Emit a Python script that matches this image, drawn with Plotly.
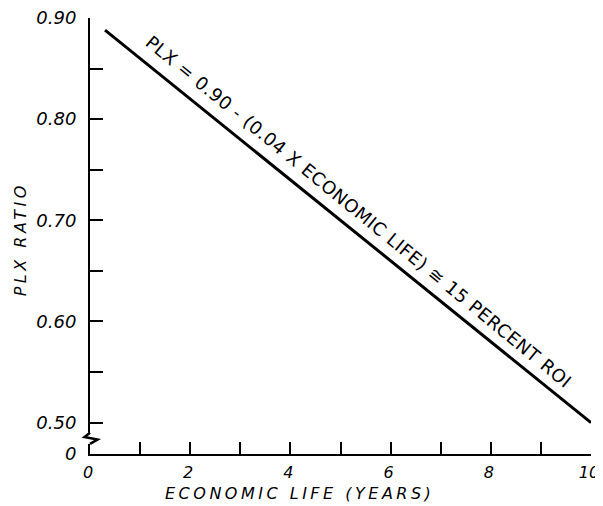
import plotly.graph_objects as go

# Data
economic_life = [0.3, 10.0]
plx_ratio = [0.888, 0.50]

x_major = [0, 2, 4, 6, 8, 10]
x_major_text = ["0", "2", "4", "6", "8", "10"]
x_minor = [1, 3, 5, 7, 9]

y_bottom = 0.469  # broken axis: this position is labelled "0"
y_major = [y_bottom, 0.50, 0.60, 0.70, 0.80, 0.90]
y_major_text = ["0", "0.50", "0.60", "0.70", "0.80", "0.90"]
y_minor = [0.55, 0.65, 0.75, 0.85]

eq_text = "PLX = 0.90 - (0.04 X ECONOMIC LIFE) ≅ 15 PERCENT ROI"
eq_x = 5.26
eq_y = 0.691

x_title = "ECONOMIC LIFE (YEARS)"
y_title = "PLX RATIO"

FONT = "DejaVu Sans"
# page body has an 8px margin; figure is sized to fit the 603x506 window
W, H = 595, 498


def spaced(t, px):
    return f'<span style="letter-spacing:{px}px">{t}</span>'


fig = go.Figure()
fig.add_trace(go.Scatter(
    x=economic_life, y=plx_ratio, mode="lines",
    line=dict(color="black", width=3), cliponaxis=False, showlegend=False,
    hoverinfo="skip"))

fig.add_annotation(
    x=eq_x, y=eq_y, xref="x", yref="y", text=spaced(eq_text, 0.6), showarrow=False,
    textangle=39.3, xshift=5, yshift=18, font=dict(family=FONT, size=18, color="black"))

# axis titles
fig.add_annotation(
    x=0.418, y=-0.090, xref="paper", yref="paper", text=spaced(x_title, 3.5),
    showarrow=False, xanchor="center", yanchor="middle",
    font=dict(family=FONT, size=16, color="black", style="italic"))
fig.add_annotation(
    x=-0.138, y=0.492, xref="paper", yref="paper", text=spaced(y_title, 3.5),
    showarrow=False, textangle=-90, xanchor="center", yanchor="middle",
    font=dict(family=FONT, size=16, color="black", style="italic"))

# axis break symbol: gap in axis + zigzag
fig.add_shape(type="line", xref="paper", yref="y", x0=0, x1=0, y0=0.4900, y1=0.4790,
              line=dict(color="white", width=5), layer="above")
fig.add_shape(type="path", xref="paper", yref="y",
              path="M 0,0.4900 L -0.011,0.4858 L 0.015,0.4832 L 0,0.4790",
              line=dict(color="black", width=2.5), layer="above")

fig.update_xaxes(
    range=[0, 10], showline=True, linecolor="black", linewidth=2,
    showgrid=False, zeroline=False, automargin=False,
    ticks="inside", ticklen=12, tickwidth=2, tickcolor="black",
    tickmode="array", tickvals=x_major, ticktext=x_major_text,
    minor=dict(ticks="inside", tickvals=x_minor, ticklen=12, tickwidth=2, tickcolor="black"),
    tickfont=dict(family=FONT, size=16, color="black", style="italic"),
    ticklabelstandoff=3, ticklabelshift=-2, ticklabeloverflow="allow",
)
fig.update_yaxes(
    range=[y_bottom, 0.90], showline=True, linecolor="black", linewidth=2,
    showgrid=False, zeroline=False, automargin=False,
    ticks="inside", ticklen=13, tickwidth=2, tickcolor="black",
    tickmode="array", tickvals=y_major, ticktext=y_major_text,
    minor=dict(ticks="inside", tickvals=y_minor, ticklen=13, tickwidth=2, tickcolor="black"),
    tickfont=dict(family=FONT, size=18, color="black", style="italic"),
    ticklabelstandoff=8, ticklabeloverflow="allow",
)

fig.update_layout(
    width=W, height=H,
    margin=dict(l=82, r=12, t=10, b=52),
    plot_bgcolor="white", paper_bgcolor="white",
)

fig.write_html("out.html")
